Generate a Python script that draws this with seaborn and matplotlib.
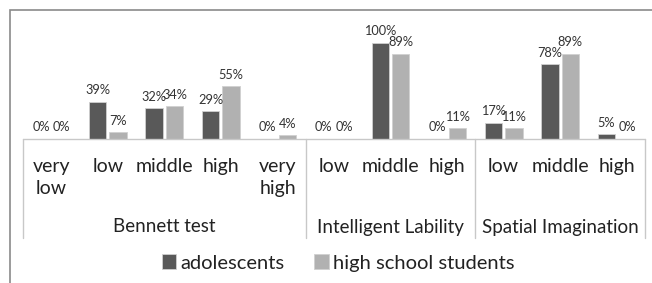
import matplotlib
matplotlib.use("Agg")
import matplotlib.pyplot as plt
import matplotlib.transforms as mtransforms
from matplotlib.patches import Rectangle
import seaborn as sns
import pandas as pd

groups = ["Bennett test"] * 5 + ["Intelligent Lability"] * 3 + ["Spatial Imagination"] * 3
levels = ["very\nlow", "low", "middle", "high", "very\nhigh",
          "low", "middle", "high",
          "low", "middle", "high"]
adolescents = [0, 39, 32, 29, 0, 0, 100, 0, 17, 78, 5]
high_school = [0, 7, 34, 55, 4, 0, 89, 11, 11, 89, 0]
series_names = ["adolescents", "high school students"]
colors = ["#595959", "#b1b1b1"]

keys = [f"{g}|{i}" for i, g in enumerate(groups)]
df = pd.DataFrame({
    "key": keys * 2,
    "value": adolescents + high_school,
    "series": [series_names[0]] * len(keys) + [series_names[1]] * len(keys),
})

sns.set_theme(style="white")
plt.rcParams["font.family"] = ["Lato", "DejaVu Sans"]

W, H = 652, 283
fig = plt.figure(figsize=(W / 100, H / 100), dpi=100)

# outer chart border (cropped at right and bottom)
fig.patches.append(Rectangle((10 / W, -0.1), 1.2, 1 - 10 / H + 0.1,
                             transform=fig.transFigure, fill=False,
                             edgecolor="#8a8a8a", linewidth=1.2))

x0, x1 = 23, 645
base = 139
top100 = 43
ymax = 1.25
ax = fig.add_axes([x0 / W, (H - base) / H, (x1 - x0) / W, (base - top100) * ymax / H])

sns.barplot(data=df, x="key", y="value", hue="series", order=keys,
            hue_order=series_names, palette=colors, width=0.72, gap=0.14,
            edgecolor="#d0d0d0", linewidth=0.6, ax=ax, legend=True)

ax.set_ylim(0, 100 * ymax)
ax.set_xlim(-0.5, len(keys) - 0.5)
for c in ax.containers:
    ax.bar_label(c, labels=[f"{v:.0f}%" for v in c.datavalues],
                 padding=4, fontsize=9.2, color="#333333")

for s in ax.spines.values():
    s.set_visible(False)
ax.set_yticks([])
ax.set_xticks(range(len(keys)))
ax.set_xticklabels(levels, fontsize=14, color="#222222", linespacing=1.35, va="top")
ax.tick_params(axis="x", length=0, pad=14)
ax.set_xlabel("")
ax.set_ylabel("")

trans = mtransforms.blended_transform_factory(ax.transData, fig.transFigure)
line_kw = dict(color="#c8c8c8", linewidth=1.0, clip_on=False, transform=trans)
y_base = (H - base) / H
y_bot = (H - 238) / H
ax.plot([-0.5, len(keys) - 0.5], [y_base, y_base], **line_kw)
bounds = [-0.5]
start = 0
group_names = []
for i in range(1, len(groups) + 1):
    if i == len(groups) or groups[i] != groups[i - 1]:
        bounds.append(i - 0.5)
        group_names.append((groups[i - 1], (start + i - 1) / 2))
        start = i
for b in bounds:
    ax.plot([b, b], [y_base, y_bot], **line_kw)
for name, cx in group_names:
    ax.text(cx, (H - 227) / H, name, transform=trans, ha="center", va="center",
            fontsize=13.5, color="#222222")

handles, labels_ = ax.get_legend_handles_labels()
ax.get_legend().remove()
fig.legend(handles, labels_, loc="center", bbox_to_anchor=(338 / W, 1 - 263 / H),
           ncol=2, frameon=False, fontsize=14.5, handlelength=0.7, handleheight=0.7,
           handletextpad=0.2, columnspacing=1.5, labelcolor="#222222")

fig.savefig("out.png", dpi=100)
